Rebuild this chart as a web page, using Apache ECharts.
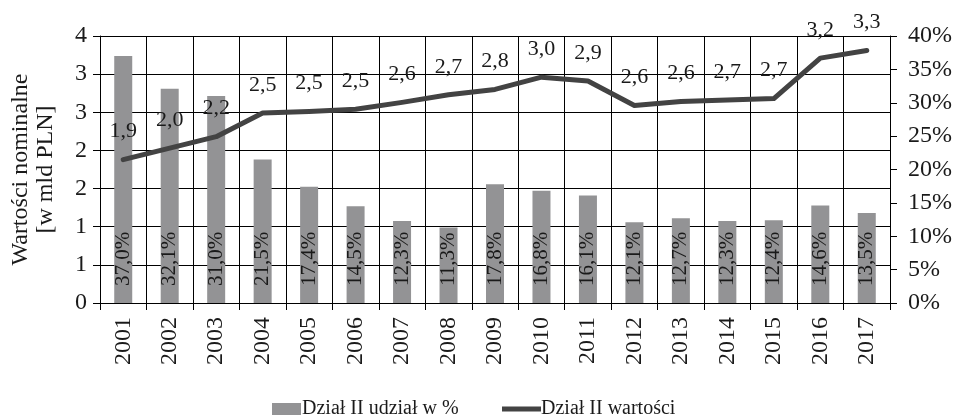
<!DOCTYPE html>
<html>
<head>
<meta charset="utf-8">
<script src="https://cdn.jsdelivr.net/npm/echarts@6/dist/echarts.min.js"></script>
<style>
  html, body { margin: 0; padding: 0; background: #fff; }
  #chart { width: 956px; height: 417px; }
</style>
</head>
<body>
<div id="chart"></div>
<script>
// Lata
const years = ['2001','2002','2003','2004','2005','2006','2007','2008','2009',
               '2010','2011','2012','2013','2014','2015','2016','2017'];
// Dział II – udział w % (oś prawa)
const shareValues = [37.0, 32.1, 31.0, 21.5, 17.4, 14.5, 12.3, 11.3, 17.8,
                     16.8, 16.1, 12.1, 12.7, 12.3, 12.4, 14.6, 13.5];
// Dział II – wartości nominalne w mld PLN (oś lewa)
const nominalValues = [1.88, 2.03, 2.18, 2.49, 2.51, 2.54, 2.63, 2.73, 2.80,
                       2.96, 2.91, 2.59, 2.64, 2.66, 2.68, 3.21, 3.31];
const seriesNames = ['Dział II udział w %', 'Dział II wartości'];
const leftTitle = 'Wartości nominalne\n[w mld PLN]';

const FONT = "'Liberation Serif', 'Times New Roman', serif";
const TXT = '#1a1a1a';
const LINE = '#434343';
const BAR = '#939395';
const comma = (v, d) => v.toFixed(d).replace('.', ',');

const chart = echarts.init(document.getElementById('chart'), null, { renderer: 'canvas' });

chart.setOption({
  animation: false,
  backgroundColor: '#ffffff',
  textStyle: { fontFamily: FONT, color: TXT },
  grid: { left: 100, right: 66, top: 36, bottom: 114, containLabel: false },
  legend: [
    {
      data: [{ name: seriesNames[0], icon: 'rect' }],
      left: 267, top: 394,
      itemWidth: 29, itemHeight: 12, itemGap: 0,
      textStyle: { fontFamily: FONT, fontSize: 20, color: TXT, padding: [0, 0, 0, -4] }
    },
    {
      data: [{ name: seriesNames[1], icon: 'rect', itemStyle: { color: LINE } }],
      left: 497, top: 394,
      itemWidth: 39, itemHeight: 5, itemGap: 0,
      textStyle: { fontFamily: FONT, fontSize: 20, color: TXT, padding: [0, 0, 0, -5] }
    }
  ],
  xAxis: {
    type: 'category',
    data: years,
    boundaryGap: true,
    axisLine: { lineStyle: { color: '#000', width: 1 } },
    axisTick: { show: true, alignWithLabel: false, interval: 0, length: 7, lineStyle: { color: '#000' } },
    axisLabel: { rotate: 90, interval: 0, margin: 14, fontFamily: FONT, fontSize: 24, color: TXT },
    splitLine: { show: true, interval: 0, lineStyle: { color: '#000', width: 1 } }
  },
  yAxis: [
    {
      type: 'value',
      min: 0, max: 3.5, interval: 0.5,
      name: leftTitle,
      nameLocation: 'middle',
      nameRotate: 90,
      nameGap: 42,
      nameTextStyle: { fontFamily: FONT, fontSize: 24, color: TXT, lineHeight: 25 },
      axisLine: { show: true, lineStyle: { color: '#000', width: 1 } },
      axisTick: { show: true, length: 7, lineStyle: { color: '#000' } },
      axisLabel: { formatter: v => String(Math.round(v)), margin: 13, fontFamily: FONT, fontSize: 24, color: TXT },
      splitLine: { show: true, lineStyle: { color: '#000', width: 1 } }
    },
    {
      type: 'value',
      min: 0, max: 40, interval: 5,
      position: 'right',
      axisLine: { show: true, lineStyle: { color: '#000', width: 1 } },
      axisTick: { show: true, length: 7, lineStyle: { color: '#000' } },
      axisLabel: { formatter: '{value}%', margin: 18, fontFamily: FONT, fontSize: 24, color: TXT },
      splitLine: { show: false }
    }
  ],
  series: [
    {
      name: seriesNames[0],
      type: 'bar',
      yAxisIndex: 1,
      data: shareValues,
      barWidth: 18,
      itemStyle: { color: BAR },
      label: {
        show: true,
        position: 'insideBottom',
        rotate: 90,
        align: 'left',
        verticalAlign: 'middle',
        distance: 17,
        fontFamily: FONT,
        fontSize: 21,
        color: TXT,
        formatter: p => comma(p.value, 1) + '%'
      },
      z: 2
    },
    {
      name: seriesNames[1],
      type: 'line',
      yAxisIndex: 0,
      data: nominalValues,
      symbol: 'circle',
      symbolSize: 2,
      showSymbol: true,
      lineStyle: { color: LINE, width: 5, cap: 'round', join: 'round' },
      itemStyle: { color: LINE },
      label: {
        show: true,
        position: 'top',
        distance: 16,
        fontFamily: FONT,
        fontSize: 22,
        color: TXT,
        formatter: p => comma(p.value, 1)
      },
      z: 3
    }
  ]
});
</script>
</body>
</html>
